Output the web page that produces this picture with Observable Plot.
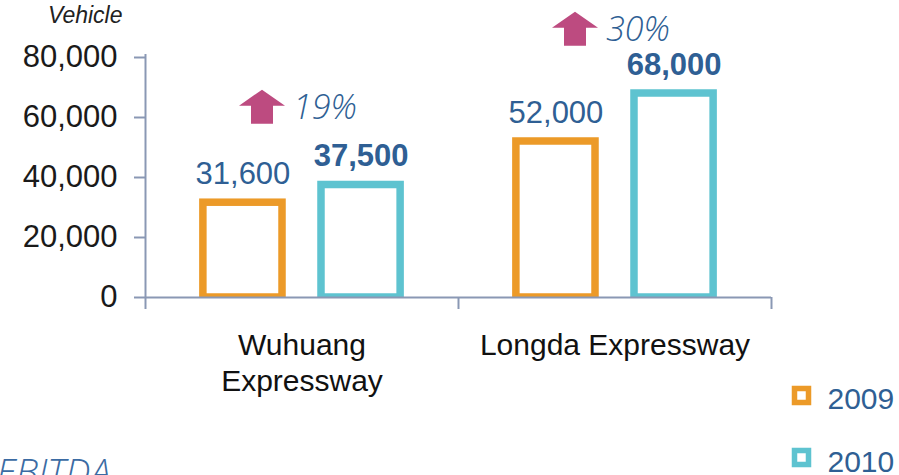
<!DOCTYPE html>
<html><head><meta charset="utf-8">
<script src="https://cdn.jsdelivr.net/npm/d3@7"></script>
<script src="https://cdn.jsdelivr.net/npm/@observablehq/plot@0.6"></script>
<style>body{margin:0;background:#fff}</style>
</head><body><div id="chart"></div>
<script>
// ---- data ----
const roads = ["Wuhuang Expressway", "Longda Expressway"];
const roadLabels = ["Wuhuang\nExpressway", "Longda Expressway"];
const years = ["2009", "2010"];
const values2009 = [31600, 52000];
const values2010 = [37500, 68000];
const growthLabels = ["19%", "30%"];
const growthY = [63600, 89600];
const yTicks = [0, 20000, 40000, 60000, 80000];
const yLabel = "Vehicle";
const footLabel = "EBITDA";

// ---- style ----
const colors = ["#ec9a28", "#5ec3d0"];
const axisColor = "#8a98b4";
const labelColor = "#2f5f94";
const arrowColor = "#bd4b80";
const W = 899, H = 475, ML = 145, MR = 128, MT = 57, MB = 178;
const FW = (W - ML - MR) / roads.length;

const rows = roads.flatMap((r, i) => [
  {road: r, year: years[0], value: values2009[i]},
  {road: r, year: years[1], value: values2010[i]}
]);
const annot = roads.map((r, i) => ({road: r, y: growthY[i], label: growthLabels[i]}));
const fmt = d3.format(",");

const arrow = {
  draw(ctx, size) {
    const k = Math.sqrt(size / Math.PI) / 23;
    const pts = [[0,-17],[23,-1],[11,-1],[11,17],[-11,17],[-11,-1],[-23,-1]];
    ctx.moveTo(pts[0][0]*k, pts[0][1]*k);
    for (let i = 1; i < pts.length; i++) ctx.lineTo(pts[i][0]*k, pts[i][1]*k);
    ctx.closePath();
  }
};

const chart = Plot.plot({
  width: W, height: H,
  marginLeft: ML, marginRight: MR, marginTop: MT, marginBottom: MB,
  style: {fontFamily: "'Liberation Sans', Arial, sans-serif", background: "white"},
  fx: {domain: roads, padding: 0, axis: null, round: false},
  x: {domain: years, paddingInner: 0.33, paddingOuter: 0.49, axis: null, round: false},
  y: {domain: [0, 80000], axis: null, label: null},
  color: {domain: years, range: colors},
  marks: [
    Plot.barY(rows, {fx: "road", x: "year", y: "value", stroke: "year", fill: "white", strokeWidth: 7.5, clip: true}),
    Plot.ruleY([0], {y: d => d, stroke: axisColor, strokeWidth: 2}),
    Plot.ruleX([roads[0]], {fx: d => d, x: null, y1: () => -4000, y2: () => 81000, dx: -FW / 2, stroke: axisColor, strokeWidth: 2}),
    Plot.ruleX([roads[1]], {fx: d => d, x: null, y1: () => -4000, y2: () => 0, dx: -FW / 2, stroke: axisColor, strokeWidth: 2}),
    Plot.ruleX([roads[1]], {fx: d => d, x: null, y1: () => -4000, y2: () => 0, dx: FW / 2, stroke: axisColor, strokeWidth: 2}),
    Plot.axisY(yTicks, {tickFormat: fmt, tickSize: 11, tickPadding: 17, fontSize: 31, stroke: axisColor, strokeWidth: 2, fill: "#1a1a1a", label: null}),
    Plot.text(rows.filter(d => d.year === years[0]), {fx: "road", x: "year", y: "value", text: d => fmt(d.value), dy: -19, lineAnchor: "bottom", fill: labelColor, fontSize: 31}),
    Plot.text(rows.filter(d => d.year === years[1]), {fx: "road", x: "year", y: "value", text: d => fmt(d.value), dy: -19, lineAnchor: "bottom", fill: labelColor, fontSize: 31, fontWeight: "bold"}),
    Plot.text(roads, {fx: d => d, text: d => roadLabels[roads.indexOf(d)], frameAnchor: "bottom", lineAnchor: "top", dy: 33, fontSize: 30, lineHeight: 1.17, fill: "#111"}),
    Plot.dot(annot, {fx: "road", y: "y", symbol: arrow, r: 23, fill: arrowColor, dx: -40}),
    Plot.text(annot, {fx: "road", y: "y", text: "label", textAnchor: "start", dx: -9, dy: 1, fontSize: 34, fontStyle: "italic", fontWeight: 300, fontFamily: "'Open Sans', sans-serif", fill: labelColor}),
    Plot.text([yLabel], {fx: () => roads[0], text: d => d, frameAnchor: "top-left", textAnchor: "end", lineAnchor: "bottom", dx: -23, dy: -35, fontSize: 23, fontStyle: "italic", fill: "#222"}),
    Plot.text([footLabel], {fx: () => roads[0], text: d => d, frameAnchor: "bottom-left", textAnchor: "start", lineAnchor: "top", dx: -149, dy: 161, fontSize: 37, fontStyle: "italic", fontWeight: 300, fontFamily: "'Open Sans', sans-serif", fill: "#3b6ba3"}),
    ...years.flatMap((yr, i) => [
      Plot.dot([yr], {fx: () => roads[1], x: null, stroke: d => d, symbol: "square", r: 7.9, strokeWidth: 5.5, fill: "white", frameAnchor: "bottom-right", dx: 30, dy: 98 + i * 62}),
      Plot.text([yr], {fx: () => roads[1], text: d => d, frameAnchor: "bottom-right", textAnchor: "start", lineAnchor: "top", dx: 56, dy: 90 + i * 63, fontSize: 30, fill: labelColor})
    ])
  ]
});
document.getElementById("chart").append(chart);
</script>
</body></html>
